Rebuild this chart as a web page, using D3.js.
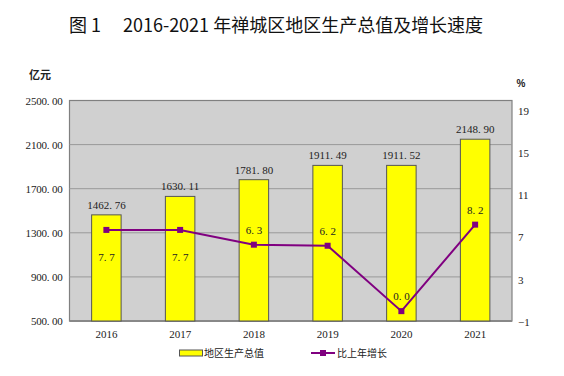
<!DOCTYPE html>
<html>
<head>
<meta charset="utf-8">
<script src="https://cdn.jsdelivr.net/npm/d3@7"></script>
<style>
  body { margin: 0; background: #fff; }
  text { font-family: "Liberation Serif", serif; }
  .cjk { font-family: "Noto Sans CJK SC", sans-serif; }
</style>
</head>
<body>
<div id="chart"></div>
<script>
// data
var years = ["2016", "2017", "2018", "2019", "2020", "2021"];
var gdp = [1462.76, 1630.11, 1781.80, 1911.49, 1911.52, 2148.90];
var growth = [7.7, 7.7, 6.3, 6.2, 0.0, 8.2];
var leftTicks = [500, 900, 1300, 1700, 2100, 2500];
var rightTicks = [-1, 3, 7, 11, 15, 19];

var width = 564, height = 376;
var margin = {top: 100.5, right: 52, bottom: 55, left: 69.5};
var plotW = width - margin.left - margin.right,
    plotH = height - margin.top - margin.bottom;

var svg = d3.select("#chart")
  .append("svg")
    .attr("width", width)
    .attr("height", height);

// title
svg.append("text")
  .attr("class", "cjk")
  .attr("x", 276)
  .attr("y", 32)
  .attr("text-anchor", "middle")
  .style("font-size", "18px")
  .style("fill", "#111")
  .text("图 1\u3000 2016-2021 年禅城区地区生产总值及增长速度");

var g = svg.append("g")
  .attr("transform", "translate(" + margin.left + "," + margin.top + ")");

// scales
var x = d3.scaleBand()
  .domain(years)
  .range([0, plotW])
  .paddingInner(0.6)
  .paddingOuter(0.3);

var y = d3.scaleLinear()
  .domain([500, 2500])
  .range([plotH, 0]);

// the right axis only spans part of the plot height
var y2 = d3.scaleLinear()
  .domain([-1, 19])
  .range([plotH + 0.7, 10.2]);

// plot background
g.append("rect")
  .attr("width", plotW)
  .attr("height", plotH)
  .style("fill", "#d0d0d0")
  .style("stroke", "#808080")
  .style("stroke-width", 1.2);

// gridlines
g.selectAll(".grid")
  .data(leftTicks.slice(1, -1))
  .enter()
  .append("line")
    .attr("x1", 0)
    .attr("x2", plotW)
    .attr("y1", function(d) { return y(d); })
    .attr("y2", function(d) { return y(d); })
    .style("stroke", "#999")
    .style("stroke-width", 1);

// left axis
var yAxis = g.append("g")
  .call(d3.axisLeft(y).tickValues(leftTicks).tickSize(0).tickPadding(7)
    .tickFormat(function(d) { return d3.format(".2f")(d).replace(".", ". "); }));
yAxis.select(".domain").remove();
yAxis.selectAll("text")
  .style("font-family", "Liberation Serif, serif")
  .style("font-size", "11px")
  .style("fill", "#222")
  .attr("letter-spacing", "-0.2px");

// right axis
var y2Axis = g.append("g")
  .attr("transform", "translate(" + plotW + ",0)")
  .call(d3.axisRight(y2).tickValues(rightTicks).tickSize(0).tickPadding(6)
    .tickFormat(function(d) { return d < 0 ? "\u2212" + Math.abs(d) : d; }));
y2Axis.select(".domain").remove();
y2Axis.selectAll("text")
  .style("font-family", "Liberation Serif, serif")
  .style("font-size", "11px")
  .style("fill", "#222");

// bottom axis
var xAxis = g.append("g")
  .attr("transform", "translate(0," + plotH + ")")
  .call(d3.axisBottom(x).tickSize(0).tickPadding(9));
xAxis.select(".domain").remove();
xAxis.selectAll("text")
  .style("font-family", "Liberation Serif, serif")
  .style("font-size", "11px")
  .style("fill", "#222");

g.append("line")
  .attr("x1", 0).attr("x2", plotW)
  .attr("y1", plotH).attr("y2", plotH)
  .style("stroke", "#888")
  .style("stroke-width", 2);

// bars
g.selectAll(".bar")
  .data(gdp)
  .enter()
  .append("rect")
    .attr("x", function(d, i) { return x(years[i]); })
    .attr("y", function(d) { return y(d); })
    .attr("width", x.bandwidth())
    .attr("height", function(d) { return plotH - y(d); })
    .style("fill", "#ffff00")
    .style("stroke", "#555")
    .style("stroke-width", 1);

// bar labels
g.selectAll(".barlabel")
  .data(gdp)
  .enter()
  .append("text")
    .attr("x", function(d, i) { return x(years[i]) + x.bandwidth() / 2; })
    .attr("y", function(d) { return y(d) - 6; })
    .attr("text-anchor", "middle")
    .style("font-size", "11px")
    .style("fill", "#222")
    .text(function(d) { return d3.format(".2f")(d).replace(".", ". "); });

// growth line
var line = d3.line()
  .x(function(d, i) { return x(years[i]) + x.bandwidth() / 2; })
  .y(function(d) { return y2(d); });

g.append("path")
  .datum(growth)
  .attr("d", line)
  .style("fill", "none")
  .style("stroke", "#800080")
  .style("stroke-width", 2);

g.selectAll(".marker")
  .data(growth)
  .enter()
  .append("rect")
    .attr("x", function(d, i) { return x(years[i]) + x.bandwidth() / 2 - 3; })
    .attr("y", function(d) { return y2(d) - 3; })
    .attr("width", 6)
    .attr("height", 6)
    .style("fill", "#800080");

// growth labels: first two sit below the marker, rest above
g.selectAll(".linelabel")
  .data(growth)
  .enter()
  .append("text")
    .attr("x", function(d, i) { return x(years[i]) + x.bandwidth() / 2; })
    .attr("y", function(d, i) { return i < 2 ? y2(d) + 31 : y2(d) - 11; })
    .attr("text-anchor", "middle")
    .style("font-size", "11px")
    .style("fill", "#222")
    .text(function(d) { return d.toFixed(1).replace(".", ". "); });

// unit labels
svg.append("text")
  .attr("class", "cjk")
  .attr("x", 40)
  .attr("y", 79)
  .attr("text-anchor", "middle")
  .style("font-size", "11px")
  .style("font-weight", "bold")
  .style("fill", "#222")
  .text("亿元");

svg.append("text")
  .attr("x", 521)
  .attr("y", 87)
  .attr("text-anchor", "middle")
  .style("font-family", "Liberation Sans, sans-serif")
  .style("font-size", "10px")
  .style("font-weight", "bold")
  .style("fill", "#222")
  .text("%");

// legend
var legend = svg.append("g");
legend.append("rect")
  .attr("x", 179.5).attr("y", 350)
  .attr("width", 23).attr("height", 6)
  .style("fill", "#ffff00")
  .style("stroke", "#555")
  .style("stroke-width", 1);
legend.append("text")
  .attr("class", "cjk")
  .attr("x", 204).attr("y", 357)
  .style("font-size", "10px")
  .style("fill", "#222")
  .text("地区生产总值");

legend.append("line")
  .attr("x1", 311).attr("x2", 335)
  .attr("y1", 353).attr("y2", 353)
  .style("stroke", "#800080")
  .style("stroke-width", 2);
legend.append("rect")
  .attr("x", 320).attr("y", 350)
  .attr("width", 6).attr("height", 6)
  .style("fill", "#800080");
legend.append("text")
  .attr("class", "cjk")
  .attr("x", 337).attr("y", 357)
  .style("font-size", "10px")
  .style("fill", "#222")
  .text("比上年增长");
</script>
</body>
</html>
